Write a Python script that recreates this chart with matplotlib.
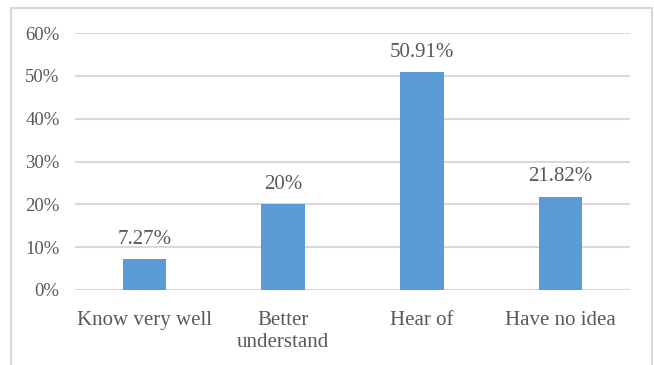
import matplotlib.pyplot as plt
from matplotlib.patches import Rectangle
from matplotlib.ticker import FuncFormatter

categories = ['Know very well', 'Better\nunderstand', 'Hear of', 'Have no idea']
values = [7.27, 20, 50.91, 21.82]
labels = ['7.27%', '20%', '50.91%', '21.82%']

plt.rcParams['font.family'] = ['Liberation Serif', 'DejaVu Serif']
text_col = '#595959'
grid_col = '#D9D9D9'

fig = plt.figure(figsize=(6.54, 3.65), dpi=100)
ax = fig.add_axes([75 / 654, 1 - 290 / 365, 555 / 654, 257 / 365])

# frame round the whole chart (bottom edge is cut off in the reference)
fig.patches.append(Rectangle((11 / 654, -0.05), 641 / 654, 1.05 - 8 / 365,
                             transform=fig.transFigure, fill=False,
                             edgecolor=grid_col, linewidth=1.5))

x = range(len(categories))
bars = ax.bar(x, values, width=0.315, color='#5B9BD5', zorder=3)

for b, lab in zip(bars, labels):
    ax.annotate(lab, (b.get_x() + b.get_width() / 2, b.get_height()),
                xytext=(0, 11), textcoords='offset points',
                ha='center', va='baseline', fontsize=15, color=text_col)

ax.set_xlim(-0.5, len(categories) - 0.5)
ax.set_ylim(0, 60)
ax.set_yticks(range(0, 61, 10))
ax.yaxis.set_major_formatter(FuncFormatter(lambda v, p: f'{int(v)}%'))
ax.set_xticks(list(x))
ax.set_xticklabels(categories, fontsize=15, color=text_col, linespacing=1.25)
ax.tick_params(axis='y', labelsize=13.5, labelcolor=text_col, length=0, pad=11)
ax.tick_params(axis='x', length=0, pad=15)

ax.grid(axis='y', color=grid_col, linewidth=1.5, zorder=0)
for s in ax.spines.values():
    s.set_visible(False)

fig.savefig('out.png', dpi=100)
